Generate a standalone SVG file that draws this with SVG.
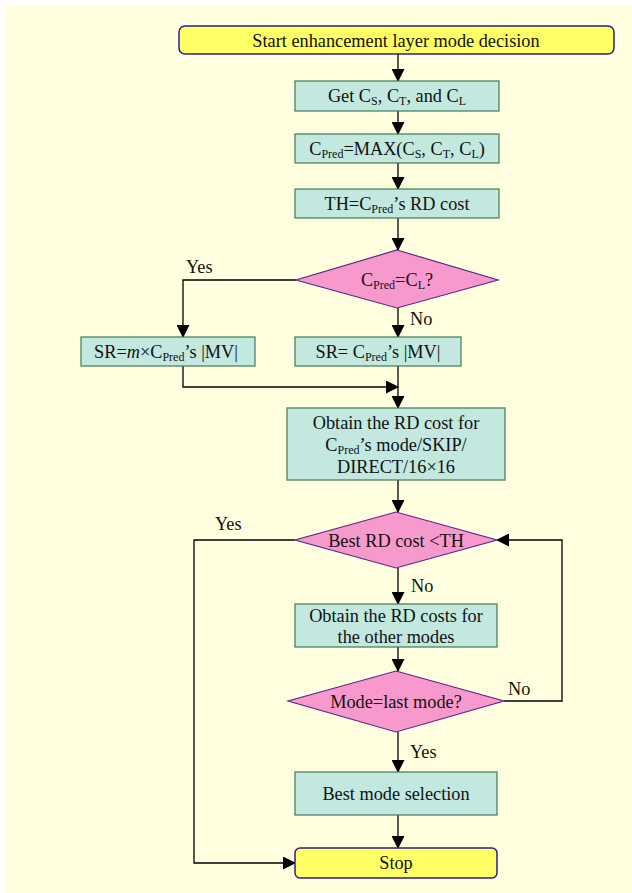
<svg xmlns="http://www.w3.org/2000/svg" width="632" height="893" viewBox="0 0 632 893">
<defs>
<marker id="ah" markerWidth="13" markerHeight="13" refX="12" refY="6.5" orient="auto" markerUnits="userSpaceOnUse">
<path d="M0,0 L13,6.5 L0,13 Z" fill="#000"/>
</marker>
<style>
.bg{fill:#FFFFE0}
.term{fill:#FFFF66;stroke:#2E1F8A;stroke-width:1.5}
.proc{fill:#C2E8E0;stroke:#3E7A55;stroke-width:1.2}
.dec{fill:#F799CC;stroke:#5A2A8A;stroke-width:1.2}
text{font-family:"Liberation Serif","Times New Roman",serif;font-size:18.3px;fill:#111;text-anchor:middle}
.lbl{text-anchor:start}
.sub{font-size:12px}
.conn path{fill:none;stroke:#000;stroke-width:1.3}
</style>
</defs>
<rect class="bg" x="6" y="6" width="626" height="887"/>
<g class="conn">
<path d="M398,54 V81" marker-end="url(#ah)"/>
<path d="M398,111 V134" marker-end="url(#ah)"/>
<path d="M398,163 V189" marker-end="url(#ah)"/>
<path d="M398,218 V250" marker-end="url(#ah)"/>
<path d="M296,280 H183 V337" marker-end="url(#ah)"/>
<path d="M398,308 V337" marker-end="url(#ah)"/>
<path d="M183,366 V387 H398" marker-end="url(#ah)"/>
<path d="M398,366 V408" marker-end="url(#ah)"/>
<path d="M398,480 V512" marker-end="url(#ah)"/>
<path d="M398,568 V604" marker-end="url(#ah)"/>
<path d="M398,647 V671" marker-end="url(#ah)"/>
<path d="M504,701 H562 V540 H497" marker-end="url(#ah)"/>
<path d="M398,732 V772" marker-end="url(#ah)"/>
<path d="M398,815 V848" marker-end="url(#ah)"/>
<path d="M295,540 H194 V863 H295" marker-end="url(#ah)"/>
<text class="lbl" x="186" y="273">Yes</text>
<text class="lbl" x="410" y="325">No</text>
<text class="lbl" x="215" y="530">Yes</text>
<text class="lbl" x="411" y="592">No</text>
<text class="lbl" x="508" y="695">No</text>
<text class="lbl" x="410" y="758">Yes</text>
</g>
<g id="start">
<rect class="term" x="179" y="26" width="435" height="28" rx="6"/>
<text x="396" y="47">Start enhancement layer mode decision</text>
</g>
<g id="getc">
<rect class="proc" x="295" y="81" width="204" height="30"/>
<text x="397" y="102">Get C<tspan class="sub" dy="3">S</tspan><tspan dy="-3">, C</tspan><tspan class="sub" dy="3">T</tspan><tspan dy="-3">, and C</tspan><tspan class="sub" dy="3">L</tspan></text>
</g>
<g id="cpred">
<rect class="proc" x="295" y="134" width="204" height="29"/>
<text x="397" y="155">C<tspan class="sub" dy="3">Pred</tspan><tspan dy="-3">=MAX(C</tspan><tspan class="sub" dy="3">S</tspan><tspan dy="-3">, C</tspan><tspan class="sub" dy="3">T</tspan><tspan dy="-3">, C</tspan><tspan class="sub" dy="3">L</tspan><tspan dy="-3">)</tspan></text>
</g>
<g id="th">
<rect class="proc" x="295" y="189" width="204" height="29"/>
<text x="397" y="210">TH=C<tspan class="sub" dy="3">Pred</tspan><tspan dy="-3">’s RD cost</tspan></text>
</g>
<g id="dec1">
<polygon class="dec" points="397,250 498,280 397,308 296,280"/>
<text x="397" y="286">C<tspan class="sub" dy="3">Pred</tspan><tspan dy="-3">=C</tspan><tspan class="sub" dy="3">L</tspan><tspan dy="-3">?</tspan></text>
</g>
<g id="srm">
<rect class="proc" x="81" y="337" width="174" height="29"/>
<text x="166" y="358">SR=<tspan font-style="italic">m</tspan>×C<tspan class="sub" dy="3">Pred</tspan><tspan dy="-3">’s |MV|</tspan></text>
</g>
<g id="sr">
<rect class="proc" x="295" y="337" width="166" height="29"/>
<text x="378" y="358">SR= C<tspan class="sub" dy="3">Pred</tspan><tspan dy="-3">’s |MV|</tspan></text>
</g>
<g id="obtain1">
<rect class="proc" x="287" y="408" width="218" height="72"/>
<text x="396" y="429">Obtain the RD cost for</text>
<text x="396" y="451">C<tspan class="sub" dy="3">Pred</tspan><tspan dy="-3">’s mode/SKIP/</tspan></text>
<text x="396" y="473">DIRECT/16×16</text>
</g>
<g id="dec2">
<polygon class="dec" points="396,512 497,540 396,568 295,540"/>
<text x="396" y="547">Best RD cost &lt;TH</text>
</g>
<g id="obtain2">
<rect class="proc" x="295" y="604" width="202" height="43"/>
<text x="396" y="622">Obtain the RD costs for</text>
<text x="396" y="643">the other modes</text>
</g>
<g id="dec3">
<polygon class="dec" points="396,671 504,701 396,732 288,701"/>
<text x="396" y="708">Mode=last mode?</text>
</g>
<g id="best">
<rect class="proc" x="295" y="772" width="202" height="43"/>
<text x="396" y="800">Best mode selection</text>
</g>
<g id="stop">
<rect class="term" x="295" y="848" width="202" height="30" rx="5"/>
<text x="396" y="869">Stop</text>
</g>
</svg>
